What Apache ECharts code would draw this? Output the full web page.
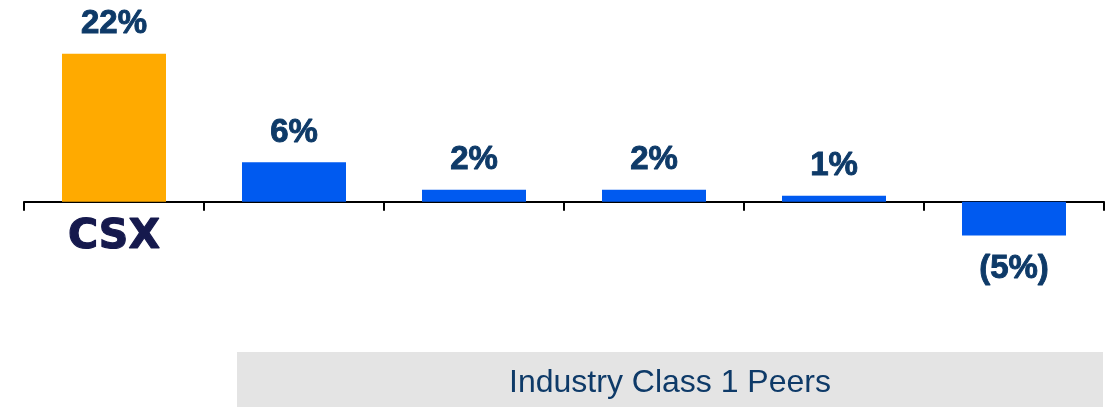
<!DOCTYPE html>
<html>
<head>
<meta charset="utf-8">
<script src="https://cdn.jsdelivr.net/npm/echarts@6/dist/echarts.min.js"></script>
<style>
html,body{margin:0;padding:0;background:#fff;}
#chart{width:1112px;height:407px;}
</style>
</head>
<body>
<div id="chart"></div>
<script>
const categories = ['CSX', 'Peer A', 'Peer B', 'Peer C', 'Peer D', 'Peer E'];
const values = [22, 5.9, 1.8, 1.8, 0.9, -5.0];
const valueLabels = ['22%', '6%', '2%', '2%', '1%', '(5%)'];
const shownCategoryLabels = ['CSX', '', '', '', '', ''];
const peerGroupLabel = 'Industry Class 1 Peers';

const ORANGE = '#FFAA00';
const BLUE = '#005AF0';
const NAVY = '#0E3A68';
const LOGO = '#15194d';

const chart = echarts.init(document.getElementById('chart'), null, {renderer: 'canvas'});
const option = {
  animation: false,
  backgroundColor: '#ffffff',
  grid: {left: 24, right: 8, top: 0, height: 269.1, containLabel: false},
  xAxis: {
    type: 'category',
    data: categories,
    boundaryGap: true,
    axisLine: {show: true, onZero: true, lineStyle: {color: '#000', width: 2}},
    axisTick: {show: true, length: 9, interval: 0, lineStyle: {color: '#000', width: 2}},
    axisLabel: {show: false}
  },
  yAxis: {
    type: 'value',
    min: -10,
    max: 30,
    show: false,
    splitLine: {show: false}
  },
  series: [{
    type: 'bar',
    barWidth: 104,
    data: values.map((v, i) => ({
      value: v,
      itemStyle: {color: i === 0 ? ORANGE : BLUE},
      label: {
        show: true,
        position: v < 0 ? 'bottom' : 'top',
        distance: v < 0 ? 17 : 13,
        formatter: valueLabels[i],
        color: NAVY,
        textBorderColor: NAVY,
        textBorderWidth: 0.9,
        fontFamily: 'Liberation Sans',
        fontWeight: 'bold',
        fontSize: 33
      }
    }))
  }]
};
chart.setOption(option);

// category label(s) and peer-group band placed from the chart's own scales
const graphics = [];
shownCategoryLabels.forEach((lab, i) => {
  if (!lab) return;
  const p = chart.convertToPixel({gridIndex: 0}, [categories[i], 0]);
  graphics.push({
    type: 'text', x: p[0], y: p[1] + 36,
    style: {text: lab, fill: LOGO, stroke: LOGO, lineWidth: 1.2,
      font: '900 41px "DejaVu Sans"', textAlign: 'center', textVerticalAlign: 'middle'},
    z: 5
  });
});
const pStart = chart.convertToPixel({gridIndex: 0}, [categories[1], 0]);
const pEnd = chart.convertToPixel({gridIndex: 0}, [categories[5], 0]);
const half = 90;
const bandLeft = pStart[0] - half + 33;
const bandRight = pEnd[0] + half - 1;
graphics.push(
  {type: 'rect', shape: {x: bandLeft, y: 352, width: bandRight - bandLeft, height: 55}, style: {fill: '#e4e4e4'}, z: 0},
  {type: 'text', x: 670, y: 383, style: {text: peerGroupLabel, fill: NAVY, font: '32px "Liberation Sans"', textAlign: 'center', textVerticalAlign: 'middle'}, z: 1}
);
chart.setOption({graphic: graphics});
</script>
</body>
</html>
